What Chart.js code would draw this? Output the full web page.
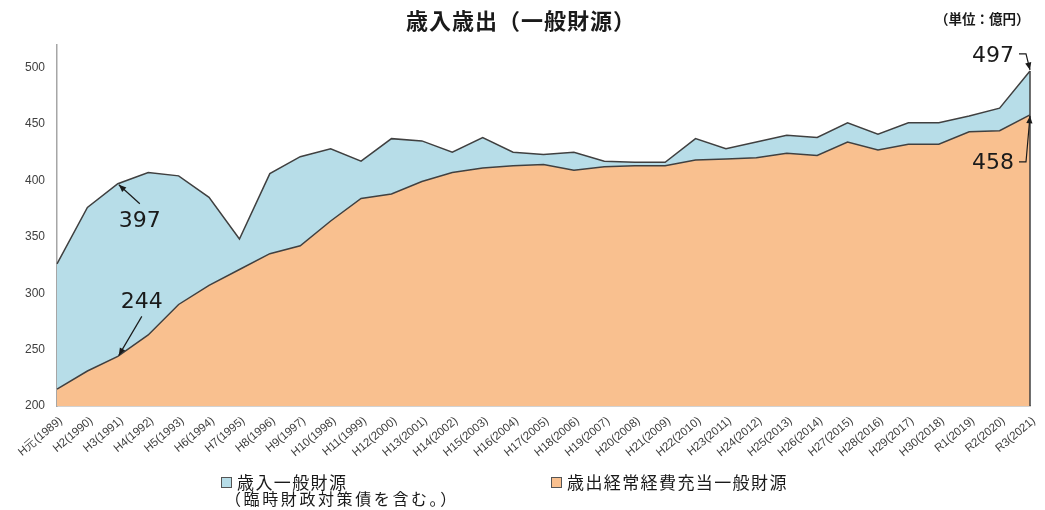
<!DOCTYPE html>
<html>
<head>
<meta charset="utf-8">
<script src="https://cdn.jsdelivr.net/npm/chart.js@4.4.1/dist/chart.umd.min.js"></script>
<style>
  body { margin: 0; background: #fff; }
  #wrap { position: relative; width: 1045px; height: 510px; font-family: "Noto Sans CJK JP", sans-serif; color: #1a1a1a; }
  #title { position: absolute; top: 3px; left: 0; width: 1042px; text-align: center; font-size: 22px; font-weight: bold; letter-spacing: 1px; }
  #unit { position: absolute; top: 8px; left: 935px; font-size: 13.5px; font-weight: bold; }
  .leg { position: absolute; font-size: 17px; line-height: 16px; letter-spacing: 1.4px; white-space: nowrap; }
  .sub { font-size: 16px; letter-spacing: 2.6px; margin-left: 4px; }
  .box { display: inline-block; width: 9px; height: 9px; border: 1px solid #555; margin-right: 5px; vertical-align: 1px; }
</style>
</head>
<body>
<div id="wrap">
  <canvas id="chart" width="1045" height="510"></canvas>
  <div id="title">歳入歳出（一般財源）</div>
  <div id="unit">（単位：億円）</div>
  <div class="leg" style="left:221px; top:474px;"><span class="box" style="background:#B7DDE8"></span>歳入一般財源<br><span class="sub">（臨時財政対策債を含む。）</span></div>
  <div class="leg" style="left:551px; top:474px;"><span class="box" style="background:#F9C08F"></span>歳出経常経費充当一般財源</div>
</div>
<script>
// Data (億円)
const labels = ['H元(1989)', 'H2(1990)', 'H3(1991)', 'H4(1992)', 'H5(1993)', 'H6(1994)', 'H7(1995)', 'H8(1996)',
    'H9(1997)', 'H10(1998)', 'H11(1999)', 'H12(2000)', 'H13(2001)', 'H14(2002)', 'H15(2003)', 'H16(2004)',
    'H17(2005)', 'H18(2006)', 'H19(2007)', 'H20(2008)', 'H21(2009)', 'H22(2010)', 'H23(2011)', 'H24(2012)',
    'H25(2013)', 'H26(2014)', 'H27(2015)', 'H28(2016)', 'H29(2017)', 'H30(2018)', 'R1(2019)', 'R2(2020)', 'R3(2021)'];
const revenue = [326, 376, 397, 407, 404, 385, 348, 406, 421, 428, 417, 437, 435, 425, 438, 425,
    423, 425, 417, 416, 416, 437, 428, 434, 440, 438, 451, 441, 451, 451, 457, 464, 497];
const expenditure = [215, 231, 244, 263, 290, 307, 321, 335, 342, 364, 384, 388, 399, 407, 411, 413,
    414, 409, 412, 413, 413, 418, 419, 420, 424, 422, 434, 427, 432, 432, 443, 444, 458];
const yTicks = [200, 250, 300, 350, 400, 450, 500];

const lineColor = '#404040';

function arrow(ctx, pts) {
    ctx.beginPath();
    ctx.moveTo(pts[0][0], pts[0][1]);
    for (let i = 1; i < pts.length; i++) ctx.lineTo(pts[i][0], pts[i][1]);
    ctx.stroke();
    const a = pts[pts.length - 2], b = pts[pts.length - 1];
    const ang = Math.atan2(b[1] - a[1], b[0] - a[0]);
    ctx.beginPath();
    ctx.moveTo(b[0], b[1]);
    ctx.lineTo(b[0] - 8 * Math.cos(ang - 0.4), b[1] - 8 * Math.sin(ang - 0.4));
    ctx.lineTo(b[0] - 8 * Math.cos(ang + 0.4), b[1] - 8 * Math.sin(ang + 0.4));
    ctx.closePath();
    ctx.fill();
}

// Callouts and right edge of the areas
const calloutPlugin = {
    id: 'callouts',
    afterDatasetsDraw(chart) {
        const ctx = chart.ctx;
        const area = chart.chartArea;
        const exp = chart.getDatasetMeta(0).data;
        const rev = chart.getDatasetMeta(1).data;
        const last = labels.length - 1;
        ctx.save();
        ctx.strokeStyle = lineColor;
        ctx.lineWidth = 1.5;
        ctx.beginPath();
        ctx.moveTo(rev[last].x, rev[last].y);
        ctx.lineTo(rev[last].x, area.bottom);
        ctx.stroke();

        ctx.fillStyle = '#1a1a1a';
        ctx.strokeStyle = '#1a1a1a';
        ctx.lineWidth = 1.2;
        ctx.font = '22px "DejaVu Sans"';
        ctx.textBaseline = 'middle';

        let p = rev[2];
        ctx.textAlign = 'center';
        ctx.fillText(String(revenue[2]), p.x + 22, p.y + 38);
        arrow(ctx, [[p.x + 22, p.y + 20], [p.x + 1, p.y + 1]]);

        p = exp[2];
        ctx.fillText(String(expenditure[2]), p.x + 24, p.y - 54);
        arrow(ctx, [[p.x + 24, p.y - 40], [p.x + 1, p.y - 1]]);

        p = rev[last];
        ctx.textAlign = 'right';
        ctx.fillText(String(revenue[last]), p.x - 16, p.y - 15);
        arrow(ctx, [[p.x - 11, p.y - 17], [p.x - 4, p.y - 17], [p.x, p.y - 1]]);

        p = exp[last];
        ctx.fillText(String(expenditure[last]), p.x - 16, p.y + 48);
        arrow(ctx, [[p.x - 11, p.y + 47], [p.x - 4, p.y + 47], [p.x, p.y + 1]]);
        ctx.restore();
    }
};

const ctx = document.getElementById('chart').getContext('2d');
const chart = new Chart(ctx, {
    type: 'line',
    data: {
        labels: labels,
        datasets: [{
            label: '歳出経常経費充当一般財源',
            data: expenditure,
            backgroundColor: '#F9C08F',
            borderColor: lineColor,
            borderWidth: 1.5,
            fill: 'start',
            pointRadius: 0,
            tension: 0
        }, {
            label: '歳入一般財源（臨時財政対策債を含む。）',
            data: revenue,
            backgroundColor: '#B7DDE8',
            borderColor: lineColor,
            borderWidth: 1.5,
            fill: 'start',
            pointRadius: 0,
            tension: 0
        }]
    },
    options: {
        responsive: false,
        animation: false,
        layout: { padding: { left: 0, right: 15, top: 45, bottom: 44 } },
        plugins: {
            legend: { display: false },
            tooltip: { enabled: false }
        },
        scales: {
            x: {
                offset: false,
                grid: { display: false, drawTicks: false },
                border: { color: '#a6a6a6', width: 1.5 },
                ticks: {
                    autoSkip: false,
                    minRotation: 40,
                    maxRotation: 40,
                    padding: 8,
                    labelOffset: 4,
                    color: '#404040',
                    font: { family: 'Liberation Sans', size: 11.5 }
                },
                afterFit(scale) {
                    scale.height = 60;
                    scale.paddingLeft = 0;
                    scale.paddingRight = 0;
                }
            },
            y: {
                min: 200,
                max: 520,
                grid: { display: false, drawTicks: false },
                border: { color: '#a6a6a6', width: 1.5 },
                afterBuildTicks(scale) { scale.ticks = yTicks.map(v => ({ value: v })); },
                ticks: {
                    padding: 12,
                    color: '#404040',
                    font: { family: 'Liberation Sans', size: 12 }
                },
                afterFit(scale) { scale.width = 57; }
            }
        }
    },
    plugins: [calloutPlugin]
});
</script>
</body>
</html>
